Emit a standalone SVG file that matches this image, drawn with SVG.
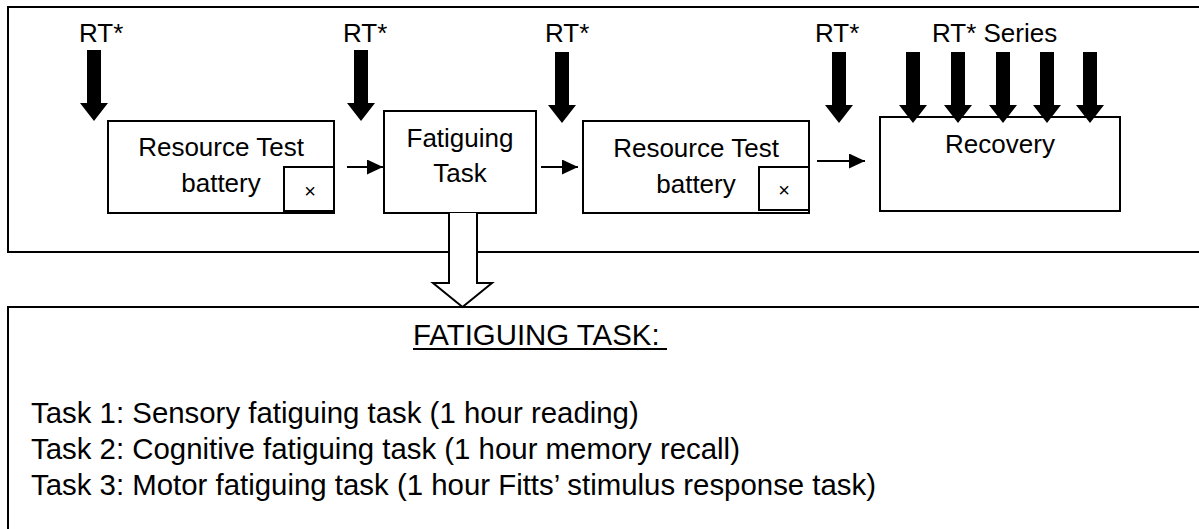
<svg xmlns="http://www.w3.org/2000/svg" width="1199" height="529" viewBox="0 0 1199 529">
<style>
.frame{fill:none;stroke:#000;stroke-width:2}
.box{fill:#fff;stroke:#000;stroke-width:2}
.lbl{font-family:"Liberation Sans",Arial,sans-serif;font-size:26px;fill:#000}
.mid{text-anchor:middle}
.body{font-family:"Liberation Sans",Arial,sans-serif;font-size:29.4px;fill:#000}
.thin{stroke:#000;stroke-width:2;fill:none}
.x{font-family:"Liberation Sans",Arial,sans-serif;font-size:20px;fill:#000;text-anchor:middle}
</style>
<defs>
<marker id="ah" markerWidth="16" markerHeight="15" refX="16" refY="7.5" orient="auto" markerUnits="userSpaceOnUse">
<path d="M0,0 L16,7.5 L0,15 Z" fill="#000"/>
</marker>
<path id="bigArrow" d="M-7,0 H7 V53 H14 L0,71 L-14,53 H-7 Z" fill="#000"/>
</defs>
<rect width="1199" height="529" fill="#fff"/>

<g id="topFrame"><rect class="frame" x="8" y="7" width="1200" height="245"/></g>
<g id="bottomFrame"><rect class="frame" x="8" y="307" width="1200" height="240"/></g>

<g id="labels">
<text class="lbl" x="79" y="42">RT*</text>
<text class="lbl" x="343" y="42">RT*</text>
<text class="lbl" x="545" y="42">RT*</text>
<text class="lbl" x="815" y="42">RT*</text>
<text class="lbl" x="932" y="42">RT* Series</text>
</g>

<g id="node-resource1">
<rect class="box" x="108" y="121" width="226" height="92"/>
<text class="lbl mid" x="221" y="156">Resource Test</text>
<text class="lbl mid" x="221" y="192">battery</text>
<rect class="box" x="284" y="167" width="50" height="44"/>
<text class="x" x="310" y="198">×</text>
</g>

<g id="node-fatiguing">
<rect class="box" x="384" y="111" width="152" height="102"/>
<text class="lbl mid" x="460" y="147">Fatiguing</text>
<text class="lbl mid" x="460" y="182">Task</text>
</g>

<g id="node-resource2">
<rect class="box" x="583" y="121" width="226" height="92"/>
<text class="lbl mid" x="696" y="157">Resource Test</text>
<text class="lbl mid" x="696" y="193">battery</text>
<rect class="box" x="759" y="167" width="50" height="43"/>
<text class="x" x="784" y="197">×</text>
</g>

<g id="node-recovery">
<rect class="box" x="880" y="117" width="240" height="94"/>
<text class="lbl mid" x="1000" y="153">Recovery</text>
</g>

<g id="connectors">
<line class="thin" x1="347" y1="167" x2="383" y2="167" marker-end="url(#ah)"/>
<line class="thin" x1="541" y1="167" x2="578" y2="167" marker-end="url(#ah)"/>
<line class="thin" x1="817" y1="161" x2="865" y2="161" marker-end="url(#ah)"/>
<use href="#bigArrow" x="94" y="50"/>
<use href="#bigArrow" x="361" y="50"/>
<use href="#bigArrow" x="562" y="52"/>
<use href="#bigArrow" x="839" y="52"/>
<use href="#bigArrow" x="913" y="52"/>
<use href="#bigArrow" x="958" y="52"/>
<use href="#bigArrow" x="1003" y="52"/>
<use href="#bigArrow" x="1047" y="52"/>
<use href="#bigArrow" x="1090" y="52"/>
<path d="M449,213 V283 H433 L462.5,307 L492,283 H477 V213" fill="#fff" stroke="#000" stroke-width="2"/>
</g>

<g id="node-details">
<text class="body" x="413" y="345">FATIGUING TASK:</text>
<line x1="413" y1="349" x2="667" y2="349" stroke="#000" stroke-width="2"/>
<text class="body" x="31" y="423">Task 1: Sensory fatiguing task (1 hour reading)</text>
<text class="body" x="31" y="459">Task 2: Cognitive fatiguing task (1 hour memory recall)</text>
<text class="body" x="31" y="495">Task 3: Motor fatiguing task (1 hour Fitts’ stimulus response task)</text>
</g>
</svg>
